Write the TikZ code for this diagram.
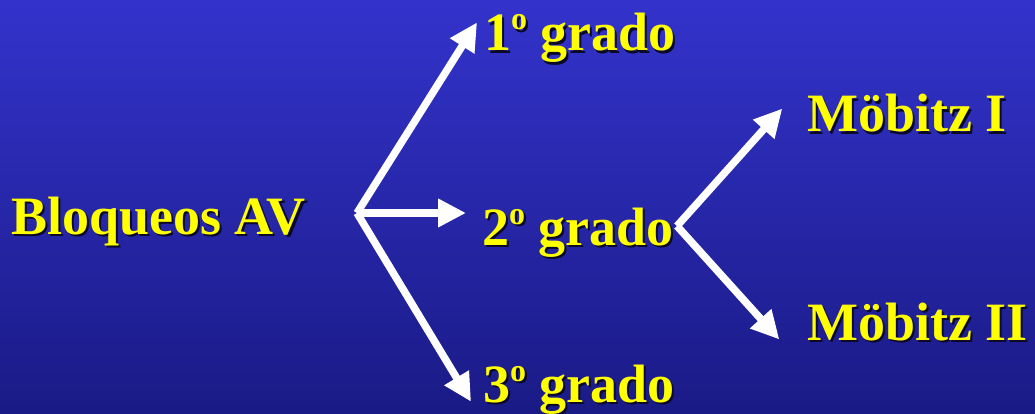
\documentclass[tikz,border=0pt]{standalone}
\usepackage{fontspec}
\setmainfont{Liberation Serif}
\usetikzlibrary{arrows.meta}
\definecolor{bgtop}{RGB}{51,51,204}
\definecolor{bgbot}{RGB}{26,26,134}
\definecolor{txtyellow}{RGB}{255,255,0}
\definecolor{shadowcol}{RGB}{10,10,40}
\newcommand\ordo{\raisebox{21pt}{\fontsize{32}{32}\selectfont o}}
\newcommand\shadowed[1]{\rlap{\kern2.2pt\lower2.2pt\hbox{\color{shadowcol}#1}}#1}
\newcommand\lbl[3]{\node[lbltext] (#1) at (#2) {\shadowed{#3}};}
\tikzset{
  lbltext/.style={anchor=base west, inner sep=0pt, text=txtyellow,
    font=\fontsize{54}{60}\selectfont\bfseries},
  arr/.style={draw=white, line width=7.5pt,
    -{Triangle[length=28pt,width=27pt]}, shorten >=-2pt}
}
\begin{document}
\begin{tikzpicture}[x=1pt,y=-1pt]
\shade[top color=bgtop, bottom color=bgbot] (0,0) rectangle (1035,414);
\useasboundingbox (0,0) rectangle (1035,414);
\lbl{bav}{11,234}{Bloqueos AV}
\lbl{g1}{484,51}{1\ordo{} grado}
\lbl{g2}{482,245}{2\ordo{} grado}
\lbl{g3}{483,402}{3\ordo{} grado}
\lbl{m1}{807,132}{Möbitz I}
\lbl{m2}{807,340}{Möbitz II}
\coordinate (forkA) at (357,213);
\coordinate (forkB) at (677,226);
\coordinate (t1) at (476,24);
\coordinate (t2) at (464,213);
\coordinate (t3) at (470,400);
\coordinate (t4) at (781,110);
\coordinate (t5) at (778,338);
\draw[arr] (forkA) -- (t1);
\draw[arr] (forkA) -- (t2);
\draw[arr] (forkA) -- (t3);
\draw[arr] (forkB) -- (t4);
\draw[arr] (forkB) -- (t5);
\end{tikzpicture}
\end{document}
